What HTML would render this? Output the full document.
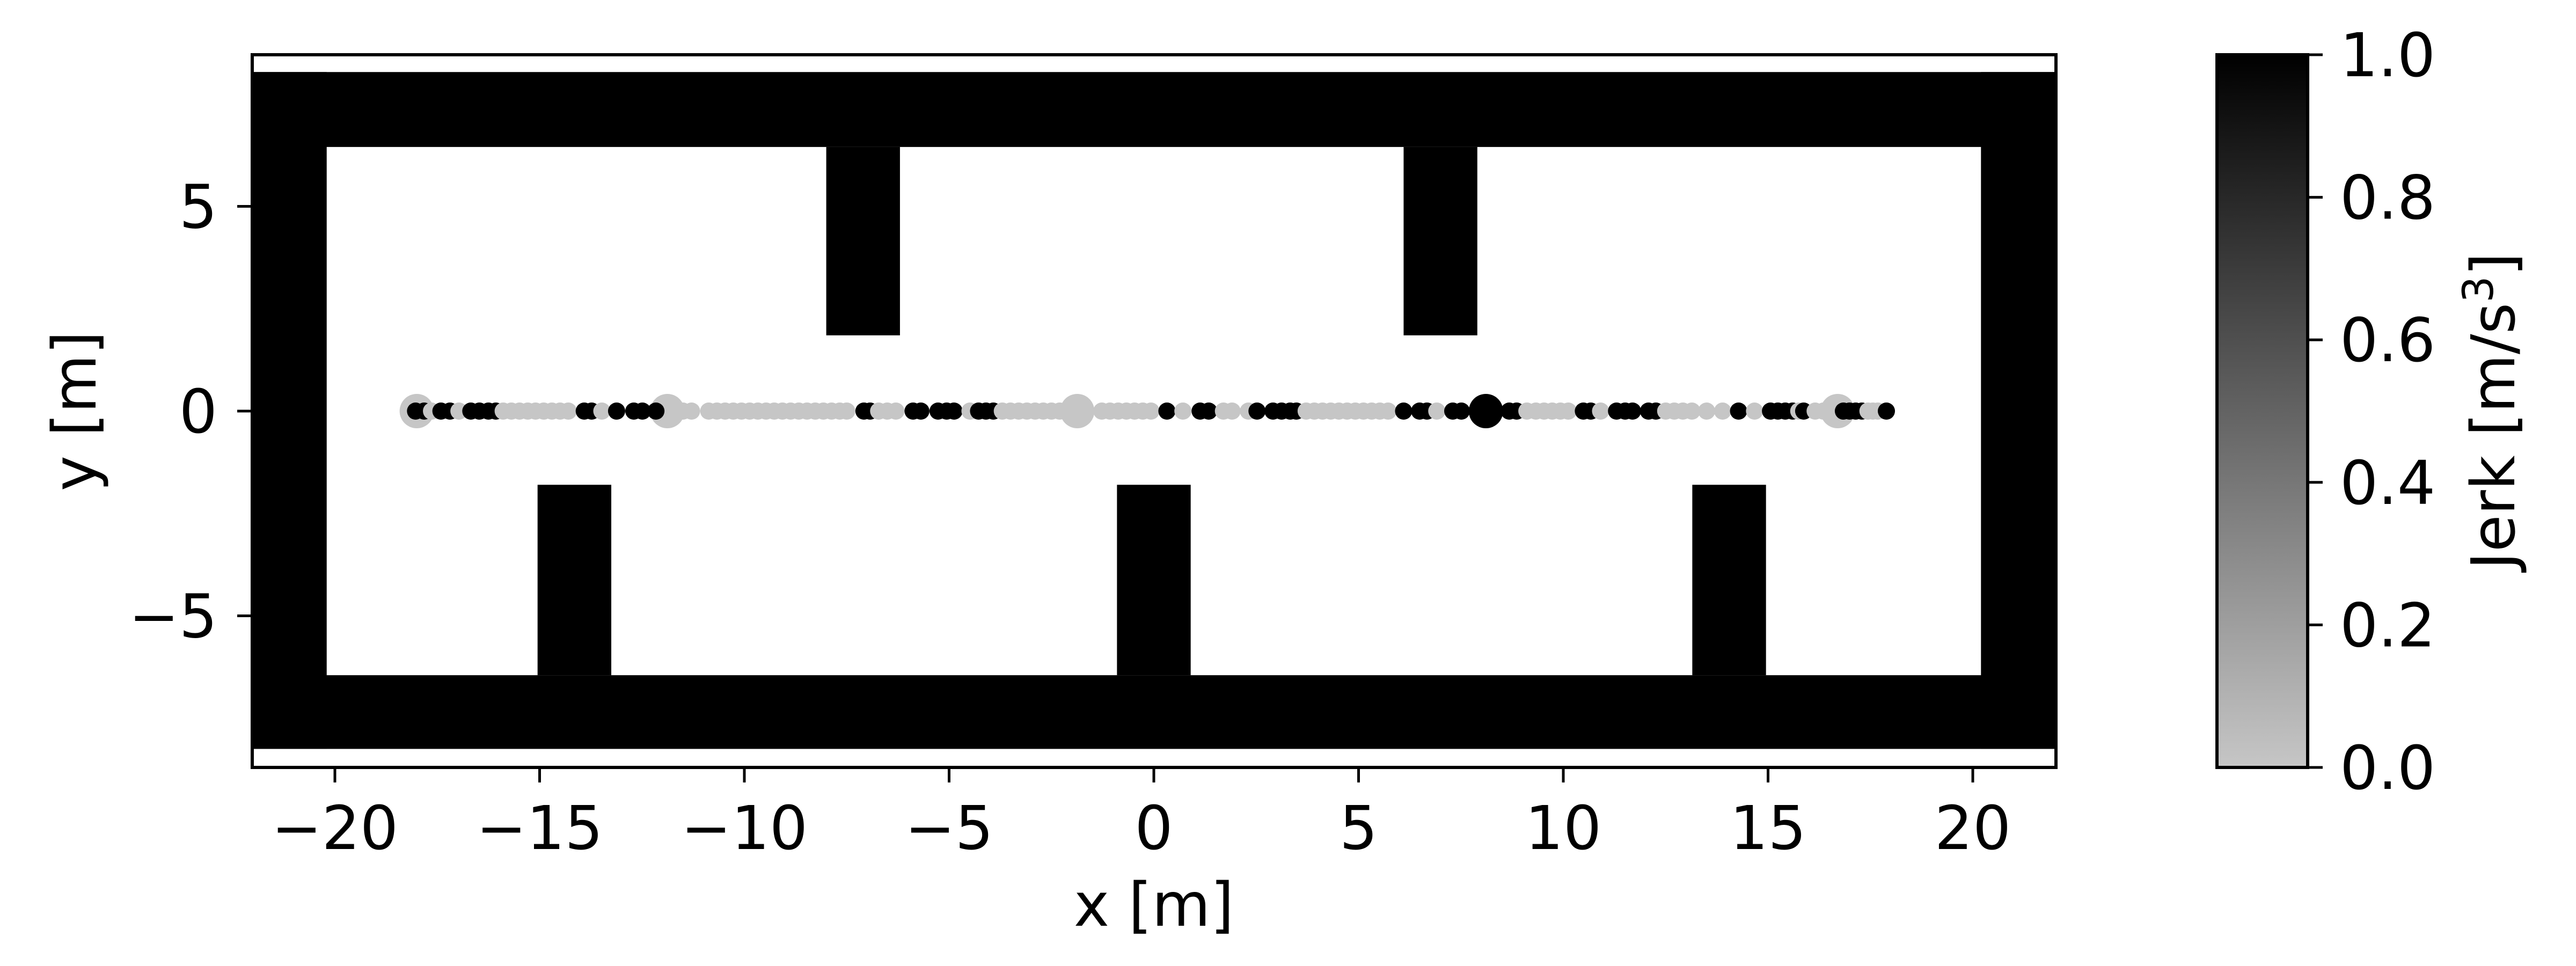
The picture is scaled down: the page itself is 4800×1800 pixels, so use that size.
<!DOCTYPE html>
<html><head><meta charset="utf-8"><style>
html,body{margin:0;padding:0;background:#fff;}
svg{display:block;}
text{font-family:"DejaVu Sans","Liberation Sans",sans-serif;fill:#000;}
</style></head><body>
<svg id="chart" width="4800" height="1800" viewBox="0 0 4800 1800" xmlns="http://www.w3.org/2000/svg">
<defs>
<linearGradient id="cbgrad" x1="0" y1="1" x2="0" y2="0">
<stop offset="0" stop-color="#c6c6c6"/><stop offset="1" stop-color="#000"/>
</linearGradient>
<clipPath id="axclip"><rect x="470" y="102" width="3361" height="1328"/></clipPath>
</defs>
<g id="walls" clip-path="url(#axclip)"></g>
<g id="points" clip-path="url(#axclip)"></g>
<rect x="470" y="102" width="3361" height="1328" fill="none" stroke="#000" stroke-width="6"/>
<g id="xticks"></g>
<g id="yticks"></g>
<text x="2150" y="1725" font-size="112" text-anchor="middle">x [m]</text>
<text transform="translate(178,766) rotate(-90)" font-size="112" text-anchor="middle">y [m]</text>
<rect x="4131" y="102" width="169" height="1328" fill="url(#cbgrad)" stroke="#000" stroke-width="6"/>
<g id="cbticks"></g>
<text transform="translate(4685,766) rotate(-90)" font-size="112" text-anchor="middle">Jerk [m/s<tspan font-size="78" dy="-40">3</tspan><tspan dy="40">]</tspan></text>
</svg>
<script>
const xTicks = [-20,-15,-10,-5,0,5,10,15,20];
const yTicks = [-5,0,5];
const cbTicks = [0.0,0.2,0.4,0.6,0.8,1.0];
// walls: [x0,x1,y0,y1] in metres
const wallX0 = [-23,-23,-23,20.2,-8.0,6.1,-15.05,-0.9,13.15];
const wallX1 = [23,23,-20.2,23,-6.2,7.9,-13.25,0.9,14.95];
const wallY0 = [6.45,-8.25,-8.25,-8.25,1.85,1.85,-6.45,-6.45,-6.45];
const wallY1 = [8.28,-6.45,8.28,8.28,6.45,6.45,-1.8,-1.8,-1.8];
// trajectory points: x position and jerk value (0 = grey, 1 = black)
const ptX = [-18.03,-17.82,-17.64,-17.41,-17.19,-16.97,-16.68,-16.47,-16.25,-16.07,
-15.89,-15.69,-15.49,-15.29,-15.10,-14.90,-14.70,-14.50,-14.30,-13.91,-13.73,-13.48,-13.12,-12.70,-12.49,-12.16,
-11.50,-11.29,-10.87,-10.67,-10.47,-10.27,-10.07,-9.87,-9.67,-9.47,-9.27,-9.07,-8.87,-8.67,-8.47,-8.27,-8.07,-7.87,-7.67,-7.50,
-7.08,-6.93,-6.72,-6.51,-6.30,-5.88,-5.69,-5.27,-5.06,-4.88,-4.49,-4.28,-4.10,-3.92,
-3.70,-3.50,-3.30,-3.10,-2.90,-2.70,-2.50,-2.30,-1.27,-1.07,-0.87,-0.67,-0.47,-0.27,-0.07,
0.32,0.71,1.13,1.34,1.70,1.91,2.31,2.52,2.91,3.12,3.33,3.48,
3.72,3.92,4.12,4.32,4.52,4.72,4.92,5.12,5.32,5.52,5.72,6.10,6.49,6.67,6.91,7.30,7.51,8.68,8.86,
9.11,9.33,9.53,9.73,9.93,10.12,10.49,10.67,10.91,11.30,11.51,11.69,12.08,12.26,
12.50,12.71,12.92,13.14,13.50,13.89,14.28,14.67,15.06,15.24,15.42,15.60,15.75,15.87,16.15,16.35,
16.84,16.99,17.14,17.29,17.44,17.56,17.68,17.89];
const ptJ = [1,1,0,1,1,0,1,1,1,1,
0,0,0,0,0,0,0,0,0,1,1,0,1,1,1,1,
0,0,0,0,0,0,0,0,0,0,0,0,0,0,0,0,0,0,0,0,
1,1,0,0,0,1,1,1,1,1,0,1,1,1,
0,0,0,0,0,0,0,0,0,0,0,0,0,0,0,
1,0,1,1,0,0,0,1,1,1,1,1,
0,0,0,0,0,0,0,0,0,0,0,1,1,1,0,1,1,1,1,
0,0,0,0,0,0,1,1,0,1,1,1,1,1,
0,0,0,0,0,0,1,0,1,1,1,1,0,1,0,0,
1,1,1,1,0,0,0,1];
// large waypoint markers
const bigX = [-18.0,-11.88,-1.87,8.11,16.70];
const bigJ = [0,0,0,1,0];

const NS='http://www.w3.org/2000/svg';
const X0=2150, Y0=766, S=76.3;
function sx(v){return X0+v*S;}
function sy(v){return Y0-v*S;}
function cby(v){return 1430-v*1328;}
function col(j){const g=Math.round(198*(1-j));return `rgb(${g},${g},${g})`;}
function mk(tag,attrs,parent){const e=document.createElementNS(NS,tag);for(const k in attrs)e.setAttribute(k,attrs[k]);parent.appendChild(e);return e;}

const walls=document.getElementById('walls');
for(let i=0;i<wallX0.length;i++){
  const r=mk('rect',{x:sx(wallX0[i]),y:sy(wallY1[i]),width:(wallX1[i]-wallX0[i])*S,height:(wallY1[i]-wallY0[i])*S,fill:'#000'},walls);
  
  
}
const pts=document.getElementById('points');
for(let i=0;i<bigX.length;i++){
  const c=mk('circle',{cx:sx(bigX[i]),cy:sy(0),r:32,fill:col(bigJ[i])},pts);
  
  
}
for(let i=0;i<ptX.length;i++){
  const c=mk('ellipse',{cx:sx(ptX[i]),cy:sy(0),rx:16,ry:16,fill:col(ptJ[i])},pts);
  
  
}
const xg=document.getElementById('xticks');
xTicks.forEach(v=>{
  const l=mk('line',{x1:sx(v),x2:sx(v),y1:1430,y2:1458,stroke:'#000','stroke-width':5},xg);
  
  
  const t=mk('text',{x:sx(v),y:1582,'font-size':112,'text-anchor':'middle'},xg);
  t.textContent=(v<0?'\u2212':'')+Math.abs(v);
  
  
});
const yg=document.getElementById('yticks');
yTicks.forEach(v=>{
  const l=mk('line',{x1:442,x2:470,y1:sy(v),y2:sy(v),stroke:'#000','stroke-width':5},yg);
  
  
  const t=mk('text',{x:405,y:sy(v)+40,'font-size':112,'text-anchor':'end'},yg);
  t.textContent=(v<0?'\u2212':'')+Math.abs(v);
  
  
});
const cg=document.getElementById('cbticks');
cbTicks.forEach(v=>{
  const l=mk('line',{x1:4300,x2:4328,y1:cby(v),y2:cby(v),stroke:'#000','stroke-width':5},cg);
  
  
  const t=mk('text',{x:4360,y:cby(v)+40,'font-size':112},cg);
  t.textContent=v.toFixed(1);
  
  
});
</script>
</body></html>
